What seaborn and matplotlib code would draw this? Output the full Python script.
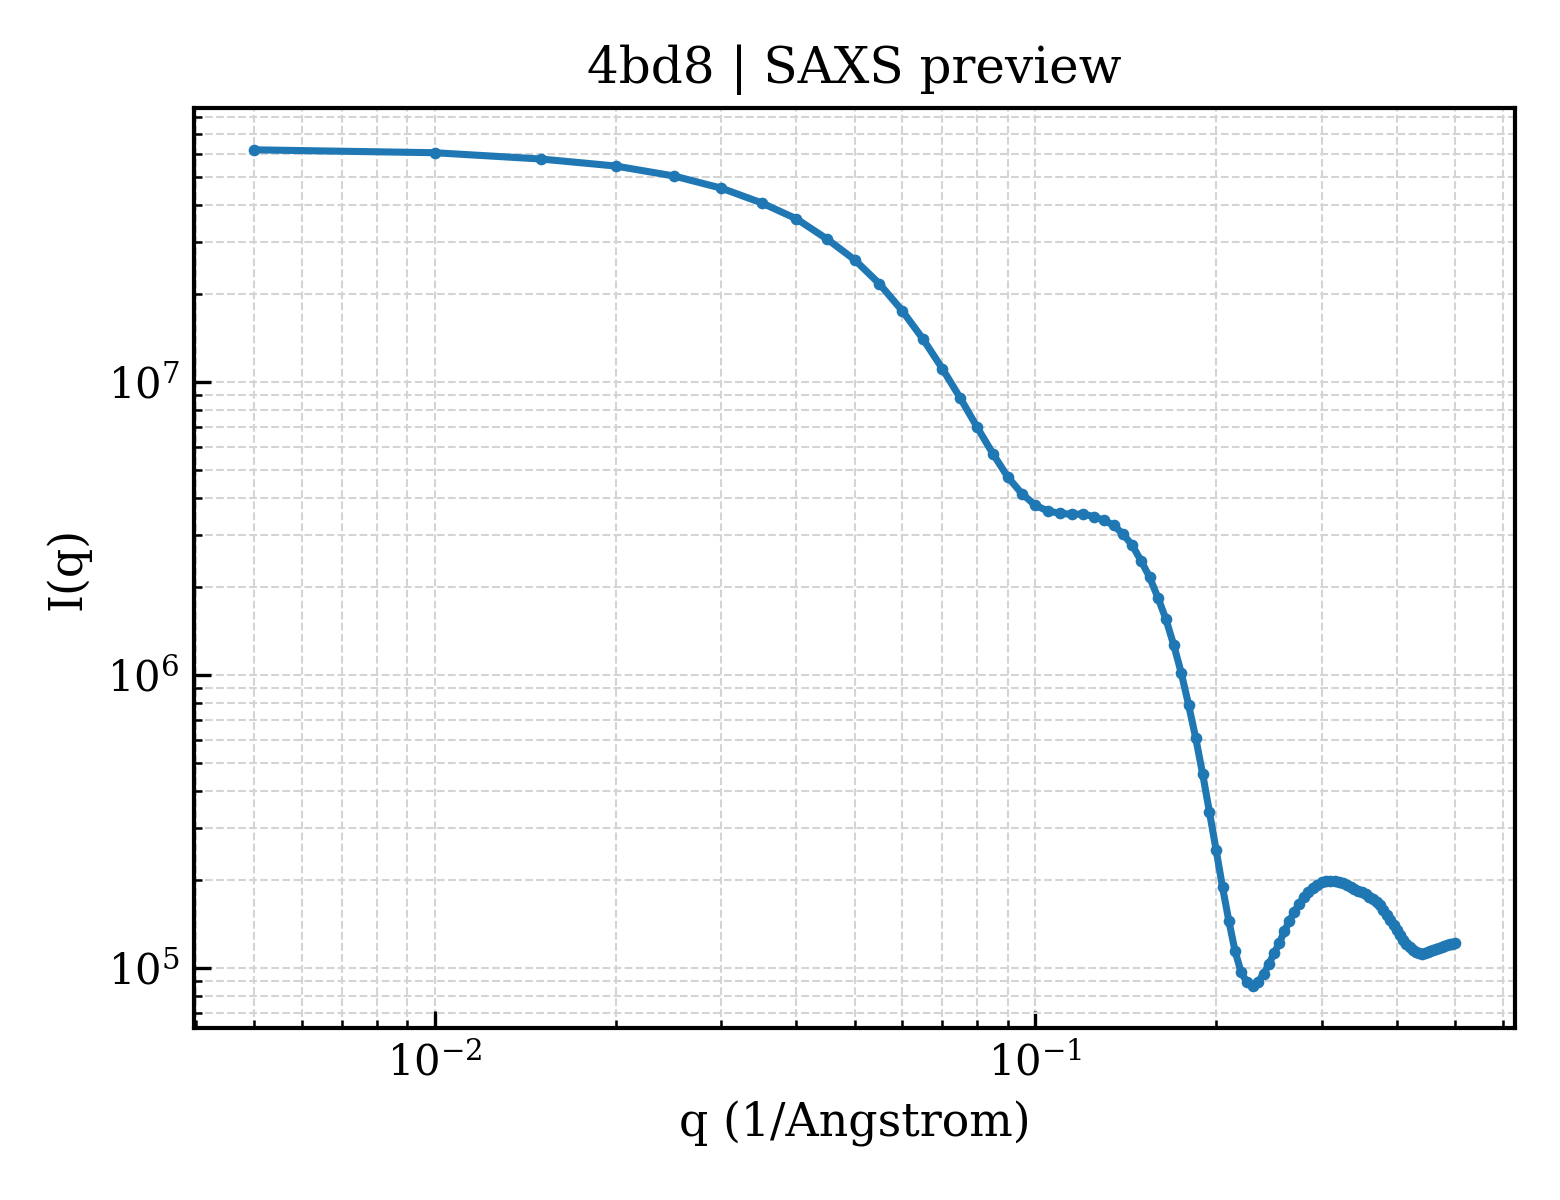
import matplotlib
matplotlib.use("Agg")
import matplotlib.pyplot as plt
import seaborn as sns
import pandas as pd

# scattering vector q (1/Angstrom)
q_values = [0.005, 0.010, 0.015, 0.020, 0.025, 0.030, 0.035, 0.040, 0.045, 0.050,
            0.055, 0.060, 0.065, 0.070, 0.075, 0.080, 0.085, 0.090, 0.095, 0.100,
            0.105, 0.110, 0.115, 0.120, 0.125, 0.130, 0.135, 0.140, 0.145, 0.150,
            0.155, 0.160, 0.165, 0.170, 0.175, 0.180, 0.185, 0.190, 0.195, 0.200,
            0.205, 0.210, 0.215, 0.220, 0.225, 0.230, 0.235, 0.240, 0.245, 0.250,
            0.255, 0.260, 0.265, 0.270, 0.275, 0.280, 0.285, 0.290, 0.295, 0.300,
            0.305, 0.310, 0.315, 0.320, 0.325, 0.330, 0.335, 0.340, 0.345, 0.350,
            0.355, 0.360, 0.365, 0.370, 0.375, 0.380, 0.385, 0.390, 0.395, 0.400,
            0.405, 0.410, 0.415, 0.420, 0.425, 0.430, 0.435, 0.440, 0.445, 0.450,
            0.455, 0.460, 0.465, 0.470, 0.475, 0.480, 0.485, 0.490, 0.495, 0.500]

# intensity I(q)
intensity = [6.19e7, 6.05e7, 5.76e7, 5.45e7, 5.04e7, 4.58e7, 4.08e7, 3.60e7, 3.07e7, 2.61e7,
             2.16e7, 1.75e7, 1.40e7, 1.11e7, 8.80e6, 7.00e6, 5.68e6, 4.73e6, 4.15e6, 3.79e6,
             3.62e6, 3.56e6, 3.53e6, 3.54e6, 3.47e6, 3.37e6, 3.24e6, 3.02e6, 2.77e6, 2.45e6,
             2.155e6, 1.835e6, 1.55e6, 1.265e6, 1.015e6, 7.90e5, 6.08e5, 4.58e5, 3.40e5, 2.53e5,
             1.886e5, 1.45e5, 1.146e5, 9.71e4, 8.94e4, 8.66e4, 8.96e4, 9.54e4, 1.032e5, 1.125e5,
             1.217e5, 1.338e5, 1.447e5, 1.553e5, 1.653e5, 1.747e5, 1.817e5, 1.875e5, 1.920e5, 1.958e5,
             1.977e5, 1.986e5, 1.982e5, 1.966e5, 1.943e5, 1.920e5, 1.890e5, 1.864e5, 1.836e5, 1.810e5,
             1.782e5, 1.747e5, 1.713e5, 1.680e5, 1.634e5, 1.571e5, 1.511e5, 1.453e5, 1.402e5, 1.348e5,
             1.296e5, 1.246e5, 1.207e5, 1.175e5, 1.147e5, 1.130e5, 1.121e5, 1.116e5, 1.125e5, 1.134e5,
             1.143e5, 1.152e5, 1.161e5, 1.170e5, 1.179e5, 1.189e5, 1.198e5, 1.203e5, 1.207e5, 1.212e5]

df = pd.DataFrame({"q": q_values, "I": intensity})

sns.set_style("white")
plt.rcParams["font.family"] = ["DejaVu Serif"]
plt.rcParams["mathtext.fontset"] = "dejavuserif"
plt.rcParams["xtick.direction"] = "in"
plt.rcParams["ytick.direction"] = "in"
plt.rcParams["text.color"] = "black"
plt.rcParams["axes.labelcolor"] = "black"
plt.rcParams["xtick.color"] = "black"
plt.rcParams["ytick.color"] = "black"

fig, ax = plt.subplots(figsize=(5.2, 4), dpi=300)
fig.subplots_adjust(left=0.1244, right=0.9712, top=0.91, bottom=0.1433)

sns.lineplot(data=df, x="q", y="I", ax=ax, color="#1f77b4", linewidth=1.7,
             marker="o", markersize=2.8, markeredgewidth=0, zorder=3)
ax.set_xscale("log")
ax.set_yscale("log")

ax.grid(True, which="both", linestyle="--", linewidth=0.5, color="#d4d4d4")
for side in ["top", "right", "bottom", "left"]:
    ax.spines[side].set_visible(True)
    ax.spines[side].set_color("black")
    ax.spines[side].set_linewidth(1.0)

ax.tick_params(which="major", length=4, width=0.8, labelsize=10, bottom=True, left=True)
ax.tick_params(which="minor", length=2, width=0.6, bottom=True, left=True)

ax.set_title("4bd8 | SAXS preview", fontsize=12)
ax.set_xlabel("q (1/Angstrom)", fontsize=11)
ax.set_ylabel("I(q)", fontsize=11)

plt.savefig("out.png", dpi=300)
